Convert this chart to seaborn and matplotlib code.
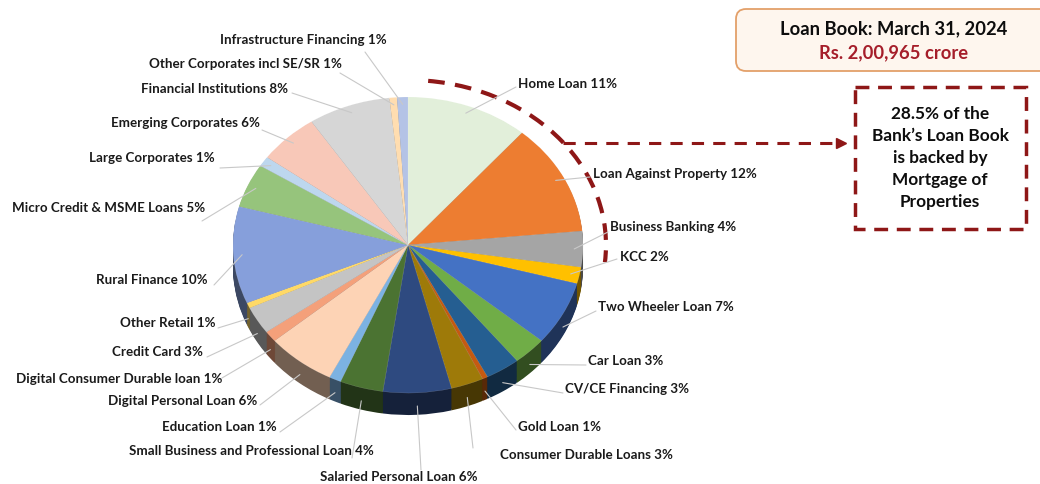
import matplotlib
matplotlib.use("Agg")
import matplotlib.pyplot as plt
import matplotlib.colors as mcolors
from matplotlib.patches import Arc, Rectangle, FancyBboxPatch
import numpy as np
import seaborn as sns

# Loan book mix, clockwise from 12 o'clock
segments = ["Home Loan", "Loan Against Property", "Business Banking", "KCC",
            "Two Wheeler Loan", "Car Loan", "CV/CE Financing", "Gold Loan",
            "Consumer Durable Loans", "Salaried Personal Loan",
            "Small Business and Professional Loan", "Education Loan",
            "Digital Personal Loan", "Digital Consumer Durable loan",
            "Credit Card", "Other Retail", "Rural Finance",
            "Micro Credit & MSME Loans", "Large Corporates",
            "Emerging Corporates", "Financial Institutions",
            "Other Corporates incl SE/SR", "Infrastructure Financing"]
share_label = [11, 12, 4, 2, 7, 3, 3, 1, 3, 6, 4, 1, 6, 1, 3, 1, 10, 5, 1, 6, 8, 1, 1]
# slice sizes (a little finer than the rounded labels)
share_drawn = [11.3, 12.2, 3.9, 1.8, 7.0, 3.1, 3.2, 0.5, 3.0, 6.3, 4.0, 1.1,
               6.4, 1.2, 3.0, 0.6, 10.6, 4.8, 1.1, 5.6, 7.6, 0.7, 1.0]
colors = ["#E2EFDA", "#ED7D31", "#A5A5A5", "#FFC000", "#4472C4", "#70AD47",
          "#255E91", "#C55A11", "#9E7A09", "#2E4A80", "#4B7332", "#7CB2E2",
          "#FDD3B5", "#F4A07A", "#C4C4C4", "#FFD966", "#869FDB", "#96C47C",
          "#BDD7EE", "#F8C8B8", "#D6D6D6", "#FFDDB0", "#B4C3E6"]

# label layout (pixel positions, y from top)
label_pos = [(518, 84, "left"), (593, 174, "left"), (610, 227, "left"),
             (620, 257, "left"), (598, 307, "left"), (588, 361, "left"),
             (565, 389, "left"), (518, 427, "left"), (500, 455, "left"),
             (320, 477, "left"), (374, 451, "right"), (277, 427, "right"),
             (257, 401, "right"), (222, 379, "right"), (203, 352, "right"),
             (216, 323, "right"), (208, 280, "right"), (205, 208, "right"),
             (215, 158, "right"), (260, 123, "right"), (288, 89, "right"),
             (342, 64, "right"), (387, 40, "right")]
line_start = [(516, 87), (590, 177), (608, 232), (617, 259), (596, 311),
              (586, 365), (563, 393), (516, 430), (473, 448), (421, 470),
              (352, 458), (280, 432), (260, 405), (222, 378), (207, 357),
              (218, 328), (214, 285), (202, 221), (220, 168), (262, 130),
              (292, 93), (340, 73), (365, 52)]

W, H = 1040, 484
CX, CY, RX, RY, DEPTH = 408, 245, 175, 148, 22
dark_red = "#8E1717"

sns.set_theme(style="white")
plt.rcParams["font.family"] = ["Lato", "DejaVu Sans"]

fig = plt.figure(figsize=(W / 100, H / 100), dpi=100)
fig.patch.set_facecolor("white")

# pie axes: unit circle maps onto the elliptical top face
d = DEPTH / RY
ax = fig.add_axes([(CX - RX) / W, 1 - (CY + RY + DEPTH) / H,
                   2 * RX / W, (2 * RY + DEPTH) / H])

side_cols = [tuple(np.array(mcolors.to_rgb(c)) * 0.45) for c in colors]
n_layers = 24
for k in range(n_layers, 0, -1):
    ax.pie(share_drawn, colors=side_cols, startangle=90, counterclock=False,
           center=(0, -d * k / n_layers), radius=1,
           wedgeprops=dict(linewidth=0))
wedges, _ = ax.pie(share_drawn, colors=colors, startangle=90, counterclock=False,
                   radius=1, wedgeprops=dict(linewidth=0.3, edgecolor=(1, 1, 1, 0.25)))
ax.set_aspect("auto")
ax.set_xlim(-1, 1)
ax.set_ylim(-1 - d, 1)
ax.axis("off")

# overlay axes in pixel coordinates
ov = fig.add_axes([0, 0, 1, 1], zorder=5)
ov.set_xlim(0, W)
ov.set_ylim(H, 0)
ov.axis("off")
ov.patch.set_alpha(0)

fig.canvas.draw()
to_px = ov.transData.inverted()
for i, w in enumerate(wedges):
    t = np.deg2rad((w.theta1 + w.theta2) / 2)
    px, py = 0.95 * np.cos(t), 0.95 * np.sin(t)
    if py < -0.35:
        px, py = np.cos(t), np.sin(t) - d * 0.6
    ex, ey = to_px.transform(ax.transData.transform((px, py)))
    sx, sy = line_start[i]
    ov.plot([sx, ex], [sy, ey], color="#C8C8C8", lw=0.8, zorder=3)
    x, y, ha = label_pos[i]
    ov.text(x, y, f"{segments[i]} {share_label[i]}%", ha=ha, va="center",
            fontsize=9.6, fontweight="bold", color="#1A1A1A", zorder=4)

# dashed mortgage arc and arrow
ov.add_patch(Arc((CX, CY), 2 * 198, 2 * 165, theta1=-83, theta2=5,
                 color=dark_red, lw=3, ls=(0, (4, 2.5))))
ov.plot([563, 836], [143, 143], color=dark_red, lw=2.2, ls=(0, (4, 3)))
ov.plot([841], [143], marker=">", ms=7, color=dark_red, mec=dark_red)

ov.add_patch(Rectangle((855, 87), 171, 142, fill=False, ec=dark_red,
                       lw=2.5, ls=(0, (4, 2.5))))
ov.text(940, 158, "28.5% of the\nBank\u2019s Loan Book\nis backed by\nMortgage of\nProperties",
        ha="center", va="center", fontsize=12.4, fontweight="bold",
        color="#0D0D0D", linespacing=1.45)

# header box
ov.add_patch(FancyBboxPatch((736, 9), 330, 62, boxstyle="round,pad=0,rounding_size=10",
                            fc="#FEF6EE", ec="#E3A06A", lw=1.3))
ov.text(894, 29, "Loan Book: March 31, 2024", ha="center", va="center",
        fontsize=13.2, fontweight="bold", color="#0D0D0D")
ov.text(894, 53, "Rs. 2,00,965 crore", ha="center", va="center",
        fontsize=13.2, fontweight="bold", color="#A51E2A")

fig.savefig("out.png", dpi=100, facecolor="white")
